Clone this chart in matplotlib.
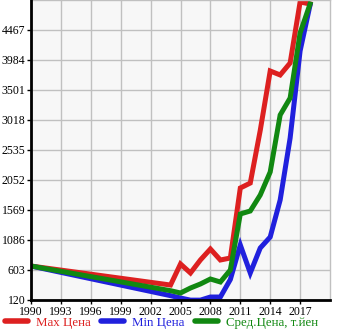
import numpy as np
import matplotlib.pyplot as plt

# годы и цены (т.йен)
years = [1990, 2004, 2005, 2006, 2007, 2008, 2009, 2010, 2011, 2012,
         2013, 2014, 2015, 2016, 2017, 2018]
max_price = [667, 361, 700, 555, 765, 941, 764, 796, 1923, 2003,
             2850, 3807, 3743, 3936, 4918, 4886]
min_price = [667, 190, 152, 118, 118, 168, 168, 450, 1006, 555,
             957, 1134, 1730, 2728, 4130, 4870]
avg_price = [667, 270, 233, 313, 378, 458, 410, 603, 1505, 1553,
             1810, 2181, 3099, 3372, 4419, 4886]

yticks = [120, 603, 1086, 1569, 2052, 2535, 3018, 3501, 3984, 4467]
xticks = [1990, 1993, 1996, 1999, 2002, 2005, 2008, 2011, 2014, 2017]

labels = ['Max Цена', 'Min Цена', 'Сред.Цена, т.йен']
colors = ['#dd2020', '#2020dd', '#118811']

plt.rcParams['font.family'] = ['Liberation Serif', 'DejaVu Serif']

fig = plt.figure(figsize=(3.45, 3.35), dpi=100)
ax = fig.add_axes([31/345, 35/335, 299/345, 300/335])
ax.set_facecolor('#f7f7f7')

for vals, lab, c in zip([max_price, min_price, avg_price], labels, colors):
    ax.plot(years, vals, color=c, lw=3.6, label=lab, solid_joinstyle='miter')

ax.set_xlim(1990, 2020)
ax.set_ylim(120, 4950)
ax.set_xticks(xticks)
ax.set_yticks(yticks)
ax.grid(True, color='#c0c0c0', lw=1)
ax.set_axisbelow(True)
ax.tick_params(labelsize=8.5, length=3, width=1, pad=1, colors='black')

for s in ['top', 'right']:
    ax.spines[s].set_color('#c0c0c0')
    ax.spines[s].set_linewidth(1)
for s in ['left', 'bottom']:
    ax.spines[s].set_linewidth(2)
    ax.spines[s].set_zorder(5)

leg = fig.legend(loc='lower left', bbox_to_anchor=(-0.005, 0.0), ncol=3,
                 frameon=False, fontsize=9.3, handlelength=1.8, handletextpad=0.6,
                 columnspacing=0.8, labelcolor='linecolor', borderaxespad=0.1)
for h in leg.get_lines():
    h.set_linewidth(4)
    h.set_solid_capstyle('round')

fig.savefig('out.png', dpi=100)
